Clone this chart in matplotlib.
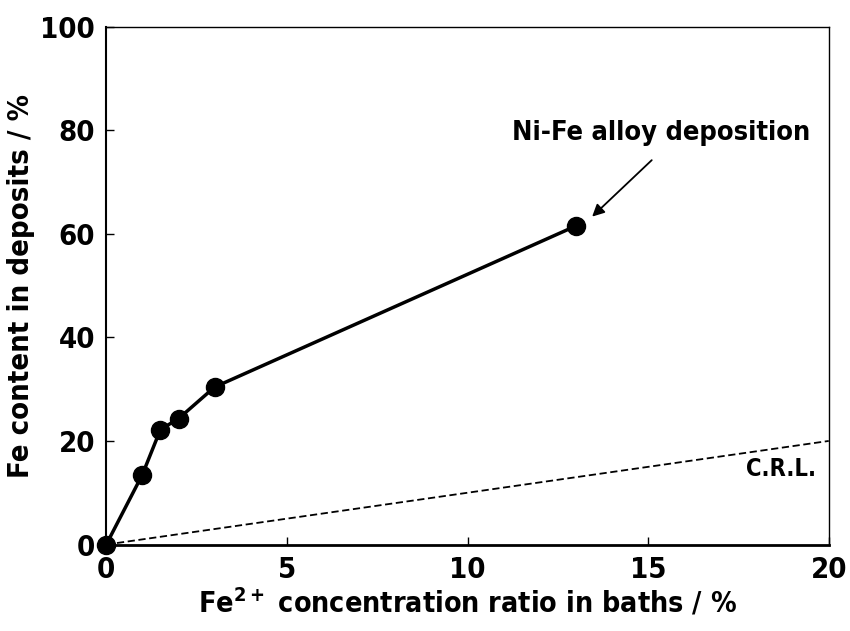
import matplotlib
matplotlib.use("Agg")
import matplotlib.pyplot as plt

plt.rcParams['font.family'] = ['DejaVu Sans']
plt.rcParams['font.stretch'] = 'condensed'
plt.rcParams['font.weight'] = 'bold'
plt.rcParams['mathtext.default'] = 'bf'

# Ni-Fe alloy deposition data
fe_bath = [0, 1, 1.5, 2, 3, 13]
fe_deposit = [0, 13.5, 22.2, 24.3, 30.4, 61.5]

# composition reference line
crl_x = [0, 20]
crl_y = [0, 20]

fig, ax = plt.subplots(figsize=(8.5, 6.31), dpi=100)
fig.subplots_adjust(left=0.125, right=0.975, top=0.958, bottom=0.137)

ax.plot(crl_x, crl_y, color='black', linestyle=(0, (4, 2)), linewidth=1.3)
ax.plot(fe_bath, fe_deposit, color='black', linewidth=2.5, marker='o',
        markersize=13, clip_on=False, zorder=3)

# label + arrow pointing at the last point
ax.text(15.35, 79.4, "Ni-Fe alloy deposition", fontsize=19.5, fontweight='bold',
        ha='center', va='center')
ax.annotate("", xy=(13.45, 63.3), xytext=(15.1, 74.2),
            arrowprops=dict(arrowstyle='-|>', color='black', lw=1.3,
                            shrinkA=0, shrinkB=0, mutation_scale=18))
ax.text(17.7, 14.5, "C.R.L.", fontsize=17, fontweight='bold', ha='left', va='center')

ax.set_xlim(0, 20)
ax.set_ylim(0, 100)
ax.set_xticks([0, 5, 10, 15, 20])
ax.set_yticks([0, 20, 40, 60, 80, 100])
ax.tick_params(direction='in', length=6, width=1, labelsize=21, pad=8)
for lbl in ax.get_xticklabels() + ax.get_yticklabels():
    lbl.set_fontweight('bold')

ax.set_xlabel("Fe$^{2+}$ concentration ratio in baths / %", fontsize=20.5, fontweight='bold', labelpad=2)
ax.set_ylabel("Fe content in deposits / %", fontsize=21, fontweight='bold', labelpad=4)

ax.spines['left'].set_linewidth(1.5)
ax.spines['bottom'].set_linewidth(2)
ax.spines['top'].set_linewidth(1)
ax.spines['right'].set_linewidth(1)

fig.savefig("out.png", dpi=100)
